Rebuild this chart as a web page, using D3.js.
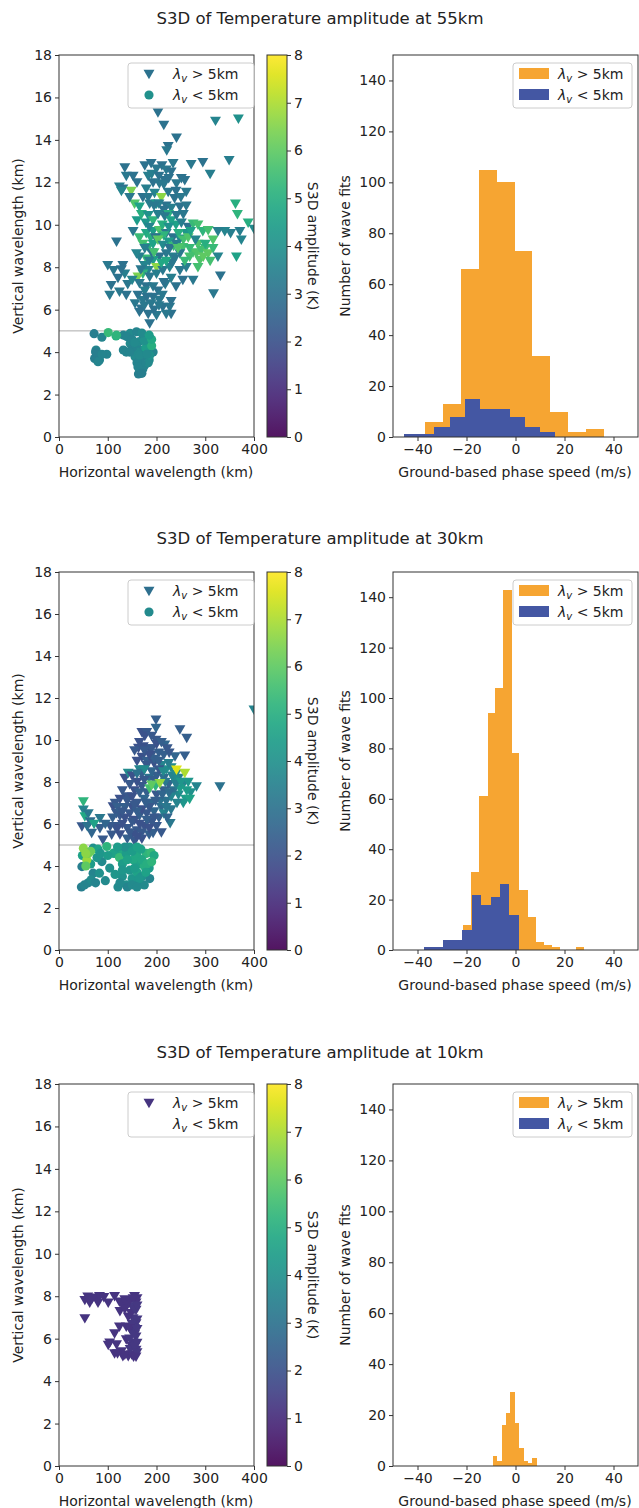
<!DOCTYPE html>
<html>
<head>
<meta charset="utf-8">
<script src="https://cdn.jsdelivr.net/npm/d3@7"></script>
<style>
  body { margin: 0; background: #fff; }
  svg { display: block; }
  text { font-family: "DejaVu Sans", sans-serif; fill: #222; }
</style>
</head>
<body>
<svg id="chart" width="639" height="1508"></svg>
<script>
// ---- scatter data: [horizontal wavelength (km), vertical wavelength (km), S3D amplitude (K)]
const p55Tri = [
  [203,15.3,3.0],[215,14.7,3.0],[241,14.1,3.0],[224,13.7,3.0],[221,13.5,3.2],[321,14.9,3.6],[368,15.0,4.0],
  [349,13.05,3.4],[310,12.4,3.4],[295,12.95,3.0],[271,12.86,3.2],[362,11.0,5.0],[366,10.5,5.2],[388,10.1,5.0],
  [400,9.8,3.8],[317,6.76,3.2],[331,7.6,3.0],[364,8.5,4.6],[371,9.7,3.4],[374,9.3,3.6],[352,9.6,3.4],[340,9.7,3.6],
  [135,12.7,3.0],[138,12.3,3.2],[152,12.3,3.0],[124,11.8,3.4],[131,11.7,3.0],[148,11.6,6.4],[155,11.0,5.8],
  [145,11.3,3.2],[160,12.0,3.0],[128,11.6,3.6],
  [176,12.8,3.0],[189,12.9,3.0],[200,12.65,3.2],[211,12.8,3.0],[220,12.6,3.2],[230,12.5,3.0],[234,12.9,3.2],
  [251,12.2,3.0],[183,12.3,3.4],[193,12.0,3.0],[206,11.95,3.2],[217,12.1,3.0],[241,11.95,3.2],[258,12.1,3.0],
  [179,11.7,3.4],[196,11.5,3.6],[210,11.3,6.6],[224,11.55,3.2],[237,11.25,3.0],[261,11.55,3.2],[172,11.3,3.0],
  [186,11.0,3.4],[200,11.0,4.2],[220,10.9,3.0],[230,10.8,3.4],[248,10.85,3.0],[261,10.9,3.2],[165,10.85,4.6],
  [215,11.9,3.2],[225,12.2,3.0],[190,12.4,3.4],[205,12.3,3.0],[183,11.3,3.2],[205,11.0,3.4],[240,11.6,3.0],
  [250,11.3,3.2],[195,10.9,3.2],[215,10.7,3.0],[225,10.5,5.0],[178,10.1,4.2],[160,10.2,4.4],[240,10.0,4.6],
  [255,10.5,3.2],
  [169,10.5,5.0],[183,10.45,4.0],[193,10.2,5.2],[203,10.5,3.4],[217,10.4,3.2],[230,10.2,4.6],[241,10.45,3.2],
  [251,10.1,3.4],[265,9.9,3.0],[275,10.05,5.4],[285,10.0,5.6],[295,9.7,5.2],[306,9.75,5.6],[316,9.3,5.8],
  [326,9.7,3.4],[152,9.7,3.2],[165,9.4,5.4],[179,9.6,4.8],[193,9.7,4.4],[206,9.75,5.8],[220,9.6,3.2],
  [234,9.4,3.0],[248,9.35,3.6],[261,9.6,4.2],[212,10.0,5.0],[225,9.9,4.0],[185,9.9,3.6],
  [205,9.4,5.4],[215,9.5,5.2],[225,9.2,4.4],[235,9.0,5.4],[245,9.6,5.0],[255,9.3,5.6],[265,9.4,5.8],
  [275,8.7,5.6],[285,9.1,5.8],[300,8.9,5.4],[270,9.7,4.6],[188,9.4,5.0],[198,9.4,3.0],
  [172,9.1,5.6],[183,8.95,5.0],[193,9.1,4.6],[203,9.3,6.0],[213,9.05,3.8],[227,8.9,3.0],[241,9.1,3.4],
  [254,8.95,5.6],[268,8.9,5.4],[282,8.65,5.8],[292,8.8,5.6],[306,8.65,6.0],[316,8.9,5.4],[326,8.5,3.6],
  [289,8.33,5.8],[268,8.5,5.6],[248,8.65,3.2],[234,8.5,3.4],[220,8.65,3.2],[206,8.5,3.0],[193,8.33,4.4],
  [179,8.4,5.4],[165,8.5,3.4],[159,8.65,3.6],[200,8.0,6.6],[183,7.86,3.6],[172,7.7,5.2],[162,7.55,6.4],
  [186,7.55,3.2],[200,7.7,3.4],[213,7.86,3.2],[227,8.0,3.6],[248,7.86,3.2],[261,8.0,3.4],[254,7.4,3.0],
  [275,7.4,3.2],[285,8.0,5.6],[237,8.4,3.2],[210,8.2,4.8],[190,8.7,3.0],[176,8.9,3.4],[300,9.1,5.0],
  [280,9.3,3.6],[310,8.3,5.6],[296,8.5,6.0],[258,8.3,5.4],[244,8.9,5.8],
  [232,8.2,3.2],[220,8.3,4.8],[195,8.7,5.6],[185,8.3,3.4],[175,8.1,3.6],[168,7.9,3.2],
  [118,9.2,3.0],[100,8.1,3.2],[112,7.86,3.2],[131,8.1,3.0],[107,7.15,3.0],[104,6.7,3.2],[121,7.5,3.0],
  [135,7.7,3.4],[141,7.2,3.2],[138,6.7,3.0],[124,6.85,3.2],[128,7.9,3.0],[150,7.4,3.6],
  [165,7.25,3.2],[179,7.1,3.0],[193,7.1,3.2],[162,6.7,3.0],[172,6.45,3.2],[193,6.6,3.0],[206,6.45,3.2],
  [213,6.13,3.0],[189,6.3,3.2],[169,6.05,3.0],[200,5.74,3.2],[186,5.35,3.0],[227,6.13,3.2],[230,5.8,3.0],
  [220,5.8,3.2],[183,5.8,3.0],[176,6.9,3.4],[203,6.9,3.0],[156,6.3,3.2],
  [175,6.2,3.2],[165,5.9,3.0],[195,6.0,3.0],[205,6.2,3.2],[180,6.6,3.0],[212,6.7,3.2],[230,6.4,3.0],
  [218,7.2,3.2],[230,7.5,3.4],[240,7.1,3.0],[215,7.3,3.0]
];
const p55Circ = [
  [72,4.87,3.4],[88,4.7,3.6],[101,4.92,5.4],[117,4.76,5.0],[132,4.8,3.6],[146,4.89,3.8],[159,4.96,3.6],
  [173,4.8,3.8],[185,4.65,5.0],[76,4.1,3.6],[83,3.63,3.6],[98,3.9,3.6],[132,4.1,3.6],[146,4.41,3.8],
  [159,4.26,3.6],[173,4.1,3.8],[193,4.0,3.6],[185,3.63,3.8],[176,3.39,3.6],[166,3.08,3.6],[163,2.97,3.4],
  [156,3.78,3.8],[170,3.78,3.6],[180,4.49,4.2],[139,4.73,3.6],[73,3.7,3.4],[80,3.55,3.6],[75,4.0,3.4],
  [88,3.9,3.6],[118,4.8,5.2],[138,4.0,3.6],[172,3.2,3.6],[183,3.5,3.8],[186,3.85,4.0],[165,4.5,3.8],
  [150,4.6,3.6],[178,4.2,4.4],[190,4.3,5.0],[168,3.5,3.6],[160,4.0,3.8],
  [150,4.2,3.6],[160,3.5,3.6],[165,3.85,3.8],[175,4.55,4.0],[190,4.6,4.8],[170,4.9,3.8],[155,4.45,3.8],
  [180,3.9,3.8],[185,4.8,4.4],[162,3.3,3.6],[170,3.0,3.4],[145,4.0,3.6]
];
const p30Tri = [
  [400,11.45,3.6],[199,10.97,2.4],[199,10.57,2.6],[170,10.37,2.0],[180,10.37,2.2],[176,10.2,2.0],[248,10.5,2.4],
  [262,10.1,2.4],[199,10.0,2.2],[217,9.78,2.6],[163,9.62,2.0],[173,9.7,2.0],[155,9.5,2.2],[185,9.6,2.0],
  [190,9.3,2.2],[205,9.4,2.4],[238,9.22,2.6],[258,9.26,2.4],[226,9.4,2.2],[330,7.79,3.0],[282,7.79,3.6],
  [135,8.19,2.0],[142,8.43,3.8],[139,7.31,2.2],[111,6.84,2.0],[118,6.52,2.2],[50,7.08,5.2],[50,6.68,3.6],
  [53,6.36,4.8],[47,5.88,2.2],[64,6.12,2.8],[84,6.28,3.2],[84,5.8,2.4],[67,5.57,2.6],[90,5.25,2.2],
  [108,5.49,2.2],[228,6.04,3.2],[193,5.57,2.4],[58,5.9,3.0],[72,6.0,4.6],[60,6.5,3.2],
  [160,9.0,2.0],[170,9.2,2.0],[180,9.0,2.4],[195,8.9,2.0],[210,8.8,3.6],[220,8.6,4.0],[230,8.7,3.8],
  [245,8.2,3.4],[255,7.9,3.6],[265,8.0,4.2],[270,7.5,4.0],[260,7.2,4.4],[255,7.0,4.2],[245,7.4,3.8],
  [235,7.6,3.0],[225,7.9,2.6],[215,7.6,2.4],[200,7.4,2.2],[190,7.0,2.6],[180,7.5,2.4],[170,7.8,2.2],
  [160,8.0,2.0],[150,8.3,2.0],[165,8.6,3.6],[185,8.2,3.0],[200,8.3,2.4],[215,8.2,2.8],[175,7.2,2.6],
  [160,7.0,2.2],[150,6.8,2.0],[145,6.5,2.2],[155,6.2,2.0],[165,6.4,2.4],[180,6.5,2.2],[195,6.6,2.6],
  [210,6.8,2.8],[220,7.1,3.0],[230,6.7,3.2],[205,6.3,2.4],[190,6.1,2.2],[175,5.9,2.0],[160,5.7,2.2],
  [150,5.5,2.0],[140,5.8,2.2],[130,6.0,2.0],[125,6.4,2.2],[135,6.8,2.4],[125,7.2,2.0],[115,7.0,2.2],
  [130,7.6,2.2],[185,5.5,2.4],[200,5.9,2.2],[170,5.3,2.0],[155,5.2,2.2],[140,5.3,2.4],[125,5.5,2.0],
  [115,5.9,2.2],[180,8.8,2.2],[170,8.4,2.4],[190,9.6,2.2],[200,9.8,2.0],[215,9.3,2.4],[225,8.9,3.4],
  [237,8.1,3.8],[248,7.7,4.4],[218,8.0,3.2],[208,7.1,3.0],[215,6.5,3.6],[222,6.3,2.6],[210,5.6,2.2],
  [145,7.9,2.2],[155,7.6,2.0],[165,7.5,2.4],[175,8.1,2.2],[190,8.5,2.6],[205,8.6,2.2],[195,9.1,2.4],
  [185,9.3,2.0],[175,9.5,2.2],[165,9.9,2.0],[190,10.2,2.2],[210,9.9,2.4],[222,9.6,2.2],[232,8.3,3.6],
  [240,7.9,3.4],[230,7.3,3.6],[220,6.8,3.2],[212,7.4,2.6],[198,7.1,2.4],[185,6.8,2.2],[170,6.7,2.0],
  [160,6.6,2.4],[150,6.1,2.2],[165,6.0,2.0],[180,6.2,2.4],[195,6.3,2.2],[185,5.8,2.0],[170,5.6,2.2],
  [160,5.4,2.0],[145,5.6,2.2],[135,6.3,2.0],[140,7.1,2.2],[150,7.3,2.0],[120,6.8,2.4],[130,6.6,2.2],
  [120,5.8,2.0],[105,5.9,2.2],[95,6.0,2.6],[110,6.3,2.4],[175,8.6,3.8],[160,8.4,3.0],[205,9.0,2.4],
  [214,8.5,3.8],[240,8.4,3.8],[250,8.0,4.2],[262,7.6,4.4],[268,7.2,4.6],[242,7.0,3.6],[226,7.5,2.8],
  [195,8.1,2.4],[178,7.0,2.4],[155,6.9,2.2],
  [198,7.8,5.2],[186,7.7,5.6],[241,8.59,7.6],[258,8.43,7.0],[207,7.95,6.7],[190,7.87,6.0]
];
const p30Circ = [
  [48,4.5,4.6],[70,4.85,4.0],[98,4.93,5.2],[88,4.21,3.8],[111,4.61,5.0],[129,4.69,4.8],[47,3.97,3.4],
  [70,3.66,3.6],[46,3.0,3.4],[52,3.1,3.6],[60,3.2,3.6],[66,3.34,3.8],[83,3.66,4.0],[65,4.1,4.4],
  [78,4.4,4.2],[121,3.0,3.8],[138,3.1,4.0],[159,3.2,3.8],[186,3.4,3.6],[145,3.8,4.2],[165,4.1,4.6],
  [179,4.6,5.2],[189,4.64,5.4],[152,4.3,4.8],[114,4.6,4.6],[124,4.4,5.4],[138,4.6,4.4],[104,3.9,4.0],
  [130,3.5,4.0],[150,3.4,4.2],[160,3.7,4.6],[170,3.5,4.0],[175,4.0,5.0],[160,4.5,4.8],[168,4.8,4.6],
  [145,4.9,4.2],[130,4.1,4.4],[115,3.6,4.2],[175,3.1,3.8],[185,3.9,4.4],[195,4.5,4.8],[140,3.0,3.6],
  [135,4.9,4.0],[150,4.7,4.4],[170,4.3,4.8],[180,4.1,5.0],[155,3.9,4.4],[165,3.4,4.2],[178,3.7,4.6],
  [150,3.1,3.8],[130,3.8,4.2],[125,3.2,3.8],[140,4.3,4.6],[190,4.2,5.2],[160,4.9,4.6],[120,4.9,4.4],
  [160,3.0,3.8],[75,3.2,3.6],[80,4.8,4.6],[85,4.6,4.2],[100,4.5,4.4],[95,3.3,3.8],
  [50,4.85,6.6],[57,4.29,6.8],[60,4.6,6.4],[55,4.0,6.0],[65,4.7,6.2],[55,4.6,6.6]
];
const p10Tri = [
  [53,7.82,1.2],[59,7.98,1.2],[63,7.7,1.2],[77,7.93,1.2],[83,8.0,1.2],[80,7.7,1.2],[53,6.96,1.2],
  [101,7.7,1.2],[114,8.0,1.2],[124,7.74,1.2],[135,7.85,1.2],[145,7.77,1.2],[155,8.0,1.2],[158,7.7,1.2],
  [142,7.04,1.2],[138,6.56,1.2],[124,6.56,1.2],[114,6.25,1.2],[101,5.7,1.2],[114,5.3,1.2],[128,5.4,1.2],
  [138,5.97,1.2],[149,5.65,1.2],[142,5.18,1.2],[158,7.35,1.3],[158,6.72,1.3],[158,6.1,1.3],[158,5.47,1.3],
  [158,5.15,1.2],[152,6.96,1.3],[152,5.81,1.3],[149,5.26,1.2],[131,5.18,1.2],[118,5.73,1.2],[104,5.81,1.2],
  [150,7.5,1.4],[155,6.5,1.4],[150,6.3,1.3],[148,7.2,1.2],[130,7.6,1.2],[160,7.9,1.2],[160,6.9,1.3],
  [160,5.8,1.3],[145,6.0,1.3],[68,7.9,1.2],[92,7.95,1.2],
  [155,7.4,1.3],[152,7.9,1.2],[150,6.7,1.3],[145,6.5,1.2],[155,6.2,1.3],[146,5.5,1.3],[155,5.6,1.3],
  [140,7.6,1.2],[125,7.3,1.2],[135,7.4,1.2],[160,7.55,1.3],[160,6.45,1.3],[160,5.35,1.3],[135,5.25,1.2],
  [120,5.3,1.2],[153,5.15,1.2]
];
const p10Circ = [];

// ---- histogram data: bin edges (m/s) and counts
const p55OrangeEdges = [-36.9,-29.6,-22.3,-15.0,-7.7,-0.4,6.9,14.2,21.5,28.8,36.1];
const p55OrangeCounts = [6,13,66,105,100,73,32,10,2,3];
const p55BlueEdges = [-45.5,-39.3,-33.1,-26.9,-20.8,-14.6,-8.4,-2.2,4.0,10.1,16.3];
const p55BlueCounts = [1,1,4,8,15,11,11,8,4,2];

const p30OrangeEdges = [-37.6,-34.3,-31.1,-27.8,-24.5,-21.3,-18.0,-14.7,-11.4,-8.2,-4.9,-1.6,1.6,4.9,8.2,11.5,14.7,18.0,21.3,24.5,27.8];
const p30OrangeCounts = [0,0,0,1,2,10,31,61,94,104,143,78,24,13,3,2,1,0,0,1];
const p30BlueEdges = [-37.2,-33.3,-29.5,-25.6,-21.8,-17.9,-14.1,-10.2,-6.4,-2.5,1.4];
const p30BlueCounts = [1,1,4,4,8,22,18,21,26,14];

const p10OrangeEdges = [-9.3,-7.5,-5.7,-3.9,-2.1,-0.3,1.5,3.3,5.1,6.9,8.7];
const p10OrangeCounts = [4,2,16,21,29,17,7,2,1,3];
const p10BlueEdges = [];
const p10BlueCounts = [];

// ---- ticks
const lhTicks = [0,100,200,300,400];
const lvTicks = [0,2,4,6,8,10,12,14,16,18];
const ampTicks = [0,1,2,3,4,5,6,7,8];
const speedTicks = [-40,-20,0,20,40];
const countTicks = [0,20,40,60,80,100,120,140];

const panels = [
  {title: "S3D of Temperature amplitude at 55km", titleY: 24, top: 55, bottom: 437,
   tri: p55Tri, circ: p55Circ, legAmp: [3.0, 4.0], line: true,
   oe: p55OrangeEdges, oc: p55OrangeCounts, be: p55BlueEdges, bc: p55BlueCounts},
  {title: "S3D of Temperature amplitude at 30km", titleY: 544, top: 572, bottom: 950,
   tri: p30Tri, circ: p30Circ, legAmp: [2.9, 3.8], line: true,
   oe: p30OrangeEdges, oc: p30OrangeCounts, be: p30BlueEdges, bc: p30BlueCounts},
  {title: "S3D of Temperature amplitude at 10km", titleY: 1058, top: 1084, bottom: 1466,
   tri: p10Tri, circ: p10Circ, legAmp: [1.2, null], line: false,
   oe: p10OrangeEdges, oc: p10OrangeCounts, be: p10BlueEdges, bc: p10BlueCounts}
];

const ORANGE = "#f6a532";
const BLUE = "#4457a3";
const FS = "14px";
const svg = d3.select("#chart");
const color = d3.scaleSequential(d3.interpolateViridis).domain([0, 8]);

// colorbar gradient
const grad = svg.append("defs").append("linearGradient")
  .attr("id", "viridis").attr("x1", 0).attr("y1", 1).attr("x2", 0).attr("y2", 0);
d3.range(0, 1.0001, 0.05).forEach(t => {
  grad.append("stop").attr("offset", t).attr("stop-color", d3.interpolateViridis(t));
});

const triPath = d3.symbol(d3.symbolTriangle, 52)();
const circPath = d3.symbol(d3.symbolCircle, 66)();

function lambdaLabel(sel, op) {
  sel.append("tspan").attr("font-style", "italic").text("λ");
  sel.append("tspan").attr("font-style", "italic").attr("font-size", "10px").attr("dy", 3).text("v");
  sel.append("tspan").attr("dy", -3).text(" " + op + " 5km");
}

function styleAxis(g) {
  g.select(".domain").remove();
  g.selectAll(".tick line").attr("stroke", "#333").attr("stroke-width", 1);
  g.selectAll(".tick text").style("font-size", FS).style("font-family", "DejaVu Sans").attr("fill", "#222");
}

panels.forEach((p, i) => {
  const g = svg.append("g");

  g.append("text").attr("x", 320).attr("y", p.titleY).attr("text-anchor", "middle")
    .style("font-size", "16.5px").text(p.title);

  // ---------- scatter ----------
  const x = d3.scaleLinear().domain([0, 400]).range([59, 254]);
  const y = d3.scaleLinear().domain([0, 18]).range([p.bottom, p.top]);

  svg.select("defs").append("clipPath").attr("id", "clip" + i)
    .append("rect").attr("x", 59).attr("y", p.top).attr("width", 195).attr("height", p.bottom - p.top);

  const plot = g.append("g").attr("clip-path", `url(#clip${i})`);
  if (p.line) {
    plot.append("line").attr("x1", x(0)).attr("x2", x(400)).attr("y1", y(5)).attr("y2", y(5))
      .attr("stroke", "#aaaaaa").attr("stroke-width", 1);
  }
  plot.selectAll(".tri").data(p.tri).enter().append("path")
    .attr("d", triPath)
    .attr("transform", d => `translate(${x(d[0])},${y(d[1]) - 1}) rotate(180)`)
    .attr("fill", d => color(d[2]));
  plot.selectAll(".circ").data(p.circ).enter().append("path")
    .attr("d", circPath)
    .attr("transform", d => `translate(${x(d[0])},${y(d[1])})`)
    .attr("fill", d => color(d[2]));

  g.append("rect").attr("x", 59).attr("y", p.top).attr("width", 195).attr("height", p.bottom - p.top)
    .attr("fill", "none").attr("stroke", "#333").attr("stroke-width", 1);

  g.append("g").attr("transform", `translate(0,${p.bottom})`)
    .call(d3.axisBottom(x).tickValues(lhTicks).tickSize(4).tickPadding(3).tickSizeOuter(0)).call(styleAxis);
  g.append("g").attr("transform", "translate(59,0)")
    .call(d3.axisLeft(y).tickValues(lvTicks).tickSize(4).tickPadding(3).tickSizeOuter(0)).call(styleAxis);

  g.append("text").attr("x", 156).attr("y", p.bottom + 40).attr("text-anchor", "middle")
    .style("font-size", FS).text("Horizontal wavelength (km)");
  g.append("text").attr("transform", `translate(23,${(p.top + p.bottom) / 2}) rotate(-90)`)
    .attr("text-anchor", "middle").style("font-size", FS).text("Vertical wavelength (km)");

  // scatter legend
  const lg = g.append("g").attr("transform", `translate(128,${p.top + 8})`);
  lg.append("rect").attr("width", 126).attr("height", 45).attr("rx", 3)
    .attr("fill", "#fff").attr("fill-opacity", 0.8).attr("stroke", "#cccccc");
  if (p.legAmp[0] !== null) {
    lg.append("path").attr("d", triPath).attr("transform", "translate(21,10) rotate(180)")
      .attr("fill", color(p.legAmp[0]));
  }
  if (p.legAmp[1] !== null) {
    lg.append("path").attr("d", circPath).attr("transform", "translate(21,32)")
      .attr("fill", color(p.legAmp[1]));
  }
  lg.append("text").attr("x", 45).attr("y", 16).style("font-size", FS).call(lambdaLabel, ">");
  lg.append("text").attr("x", 45).attr("y", 37).style("font-size", FS).call(lambdaLabel, "<");

  // colorbar
  const cb = d3.scaleLinear().domain([0, 8]).range([p.bottom, p.top]);
  g.append("rect").attr("x", 267).attr("y", p.top).attr("width", 20).attr("height", p.bottom - p.top)
    .attr("fill", "url(#viridis)").attr("fill-opacity", 0.92).attr("stroke", "#333").attr("stroke-width", 1);
  g.append("g").attr("transform", "translate(287,0)")
    .call(d3.axisRight(cb).tickValues(ampTicks).tickSize(4).tickPadding(3).tickSizeOuter(0)).call(styleAxis);
  g.append("text").attr("transform", `translate(308,${(p.top + p.bottom) / 2}) rotate(90)`)
    .attr("text-anchor", "middle").style("font-size", FS).text("S3D amplitude (K)");

  // ---------- histogram ----------
  const hx = d3.scaleLinear().domain([-50, 50]).range([393, 638]);
  const hy = d3.scaleLinear().domain([0, 150]).range([p.bottom, p.top]);

  const bins = (edges, counts) => counts.map((c, k) => ({x0: edges[k], x1: edges[k + 1], n: c}));
  const hg = g.append("g");
  hg.selectAll(".ob").data(bins(p.oe, p.oc)).enter().append("rect")
    .attr("x", d => hx(d.x0)).attr("width", d => hx(d.x1) - hx(d.x0))
    .attr("y", d => hy(d.n)).attr("height", d => hy(0) - hy(d.n))
    .attr("fill", ORANGE).attr("shape-rendering", "crispEdges");
  hg.selectAll(".bb").data(bins(p.be, p.bc)).enter().append("rect")
    .attr("x", d => hx(d.x0)).attr("width", d => hx(d.x1) - hx(d.x0))
    .attr("y", d => hy(d.n)).attr("height", d => hy(0) - hy(d.n))
    .attr("fill", BLUE).attr("shape-rendering", "crispEdges");

  g.append("rect").attr("x", 393).attr("y", p.top).attr("width", 245).attr("height", p.bottom - p.top)
    .attr("fill", "none").attr("stroke", "#333").attr("stroke-width", 1);

  g.append("g").attr("transform", `translate(0,${p.bottom})`)
    .call(d3.axisBottom(hx).tickValues(speedTicks).tickFormat(d => d < 0 ? "\u2212" + Math.abs(d) : d)
      .tickSize(4).tickPadding(3).tickSizeOuter(0)).call(styleAxis);
  g.append("g").attr("transform", "translate(393,0)")
    .call(d3.axisLeft(hy).tickValues(countTicks).tickSize(4).tickPadding(3).tickSizeOuter(0)).call(styleAxis);

  g.append("text").attr("x", 515).attr("y", p.bottom + 40).attr("text-anchor", "middle")
    .style("font-size", FS).text("Ground-based phase speed (m/s)");
  g.append("text").attr("transform", `translate(350,${(p.top + p.bottom) / 2}) rotate(-90)`)
    .attr("text-anchor", "middle").style("font-size", FS).text("Number of wave fits");

  const hl = g.append("g").attr("transform", `translate(513,${p.top + 8})`);
  hl.append("rect").attr("width", 119).attr("height", 45).attr("rx", 3)
    .attr("fill", "#fff").attr("fill-opacity", 0.8).attr("stroke", "#cccccc");
  hl.append("rect").attr("x", 6).attr("y", 5).attr("width", 30).attr("height", 11).attr("fill", ORANGE);
  hl.append("rect").attr("x", 6).attr("y", 26).attr("width", 30).attr("height", 11).attr("fill", BLUE);
  hl.append("text").attr("x", 45).attr("y", 16).style("font-size", FS).call(lambdaLabel, ">");
  hl.append("text").attr("x", 45).attr("y", 37).style("font-size", FS).call(lambdaLabel, "<");
});
</script>
</body>
</html>
